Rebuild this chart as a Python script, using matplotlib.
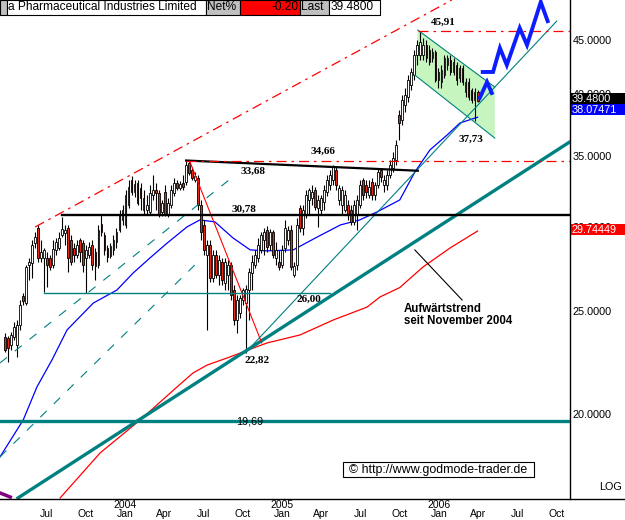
import matplotlib
matplotlib.use('Agg')
import matplotlib.pyplot as plt
import matplotlib.dates as mdates
from matplotlib.patches import Rectangle, Polygon
from matplotlib.lines import Line2D
from matplotlib.ticker import NullLocator, FixedLocator
import numpy as np
import pandas as pd

plt.rcParams['font.family'] = ['Liberation Sans', 'DejaVu Sans']

W, H = 625, 520

# Wochenkerzen (Freitag)
weeks = pd.date_range('2003-03-28', periods=158, freq='7D')

opens = [23.63, 23.58, 23.23, 23.63, 23.23, 24.26, 25.83, 25.44, 27.63, 27.75,
         28.98, 29.95, 28.06, 28.06, 28.06, 28.06, 27.63, 28.55, 28.67, 29.49,
         29.62, 29.95, 29.17, 28.67, 28.24, 29.17, 28.98, 28.06, 28.24, 28.86,
         28.42, 27.63, 30.21, 29.49, 28.67, 28.18, 28.55, 29.05, 29.81, 30.47,
         30.14, 31.47, 33.23, 32.37, 33.01, 32.66, 31.13, 31.13, 31.00, 32.16,
         32.51, 32.30, 31.00, 32.37, 30.87, 31.47, 32.30, 33.01, 32.66, 33.01,
         33.08, 34.47, 33.95, 33.23, 33.37, 31.47, 30.14, 28.24, 28.86, 26.86,
         28.24, 27.04, 27.81, 26.57, 27.04, 27.63, 26.17, 24.52, 24.90, 25.61,
         25.44, 26.17, 27.16, 27.63, 28.06, 28.55, 29.17, 29.81, 28.86, 29.68,
         28.06, 27.81, 27.63, 28.67, 29.17, 29.81, 27.04, 27.63, 31.27, 29.95,
         30.80, 31.82, 31.95, 32.51, 31.27, 31.13, 31.68, 32.37, 32.87, 33.23,
         33.95, 31.82, 31.47, 31.13, 31.47, 31.13, 30.34, 30.80, 31.47, 33.23,
         32.87, 32.16, 33.08, 32.16, 32.87, 33.95, 32.87, 32.87, 33.58, 34.10,
         34.70, 38.26, 37.84, 39.10, 39.78, 40.83, 41.72, 43.57, 43.57, 43.57,
         44.53, 44.05, 43.29, 43.86, 41.27, 41.09, 41.72, 42.64, 43.10, 42.00,
         42.64, 41.45, 42.36, 40.22, 41.09, 40.39, 39.52, 40.22]
highs = [23.84, 23.68, 23.89, 24.42, 24.52, 25.61, 26.00, 27.63, 28.06, 29.17,
         29.68, 30.14, 29.17, 28.67, 28.42, 28.24, 29.17, 29.30, 29.68, 30.67,
         30.14, 30.14, 29.49, 28.98, 29.17, 29.30, 29.17, 28.86, 29.05, 29.17,
         28.67, 30.14, 30.80, 29.68, 28.86, 28.98, 29.49, 29.95, 31.13, 31.47,
         32.51, 33.23, 33.51, 33.23, 33.23, 33.01, 32.51, 32.16, 32.87, 33.58,
         33.01, 32.51, 31.82, 32.87, 31.95, 32.87, 33.37, 33.23, 33.15, 33.58,
         34.66, 34.62, 34.17, 33.80, 33.58, 31.82, 30.47, 29.17, 29.17, 28.55,
         28.55, 28.24, 28.06, 28.06, 27.93, 27.81, 26.46, 25.89, 25.89, 26.29,
         26.46, 27.45, 28.24, 28.55, 29.30, 29.68, 29.95, 30.08, 29.88, 29.81,
         29.05, 28.55, 28.86, 30.47, 30.08, 30.14, 27.81, 30.60, 31.47, 31.47,
         32.51, 32.66, 32.87, 32.73, 32.16, 32.16, 32.87, 33.58, 33.95, 34.32,
         34.25, 32.87, 32.80, 32.51, 31.82, 31.47, 31.82, 32.16, 33.23, 33.37,
         33.23, 33.23, 33.37, 33.08, 34.10, 34.10, 33.58, 33.95, 34.70, 35.31,
         36.24, 38.67, 39.95, 40.56, 41.72, 42.36, 44.05, 45.01, 45.91, 45.20,
         45.01, 44.53, 44.24, 44.05, 42.36, 42.64, 43.57, 43.57, 43.57, 43.29,
         42.92, 42.64, 42.64, 41.45, 41.45, 40.56, 40.56, 40.39]
lows = [22.88, 22.40, 22.98, 23.48, 22.63, 24.00, 25.33, 25.33, 26.75, 26.86,
        28.67, 27.81, 27.81, 26.06, 26.35, 27.33, 27.45, 28.24, 28.55, 29.36,
        28.86, 27.22, 27.63, 27.81, 28.06, 27.81, 27.22, 26.00, 28.06, 27.33,
        26.75, 27.45, 29.43, 28.24, 27.81, 28.06, 28.24, 28.67, 29.68, 30.14,
        29.95, 31.27, 32.16, 32.02, 31.47, 31.13, 30.80, 30.80, 30.80, 31.82,
        31.13, 30.67, 30.73, 30.73, 30.67, 31.27, 32.09, 32.51, 32.51, 32.51,
        32.87, 33.58, 33.23, 33.08, 31.13, 29.17, 28.24, 24.00, 26.63, 26.63,
        26.86, 26.46, 26.46, 26.17, 26.17, 25.61, 24.26, 23.84, 24.63, 25.33,
        22.82, 24.52, 26.17, 27.45, 27.81, 28.36, 28.24, 28.42, 28.55, 28.06,
        27.63, 27.33, 27.45, 28.42, 28.86, 27.33, 26.92, 27.33, 29.68, 29.49,
        30.60, 30.80, 31.47, 31.13, 30.01, 30.80, 31.13, 32.09, 32.51, 32.87,
        32.51, 31.47, 30.80, 31.00, 30.47, 30.14, 30.14, 29.81, 31.27, 31.82,
        31.95, 31.95, 31.82, 31.82, 32.66, 33.08, 32.37, 32.51, 33.37, 33.80,
        34.32, 36.24, 37.44, 38.51, 39.35, 40.39, 41.27, 42.64, 43.10, 43.10,
        42.92, 42.64, 42.92, 41.09, 40.56, 40.56, 41.45, 42.18, 41.72, 41.72,
        40.83, 41.09, 40.83, 39.78, 39.52, 39.27, 37.73, 39.35]
closes = [22.98, 23.08, 23.74, 24.15, 24.26, 25.33, 25.55, 27.51, 27.81, 28.86,
          29.36, 28.06, 28.42, 28.55, 27.63, 27.51, 28.61, 29.05, 29.30, 29.88,
          29.81, 28.06, 27.81, 28.24, 28.86, 28.42, 27.63, 28.55, 28.74, 27.63,
          27.57, 29.81, 29.68, 28.55, 28.12, 28.80, 29.17, 29.68, 30.80, 31.13,
          32.16, 32.73, 32.37, 32.94, 31.61, 31.95, 31.95, 31.47, 32.30, 32.51,
          32.30, 30.87, 31.61, 30.87, 31.61, 32.51, 33.01, 32.66, 32.94, 32.73,
          34.32, 33.73, 33.37, 33.51, 31.47, 29.68, 28.55, 28.86, 26.86, 28.24,
          27.04, 27.93, 26.75, 27.81, 27.63, 25.89, 24.52, 25.61, 25.72, 26.17,
          26.23, 27.22, 27.81, 28.24, 28.86, 29.49, 29.68, 28.74, 29.68, 28.24,
          28.55, 27.51, 28.55, 29.95, 29.81, 27.51, 27.57, 30.14, 29.95, 31.13,
          32.16, 32.51, 32.37, 31.34, 31.82, 31.95, 32.51, 33.23, 33.58, 34.17,
          32.87, 32.66, 32.51, 32.16, 30.80, 30.34, 31.47, 31.82, 32.87, 32.16,
          32.37, 32.73, 32.16, 32.87, 33.80, 33.44, 33.23, 33.58, 34.32, 34.85,
          35.85, 37.60, 39.52, 39.95, 41.27, 42.00, 43.57, 44.53, 44.82, 44.53,
          43.29, 42.92, 43.86, 41.27, 42.00, 42.18, 43.29, 43.29, 42.00, 42.92,
          41.27, 42.36, 41.09, 41.09, 39.78, 39.52, 40.22, 39.48]

# gleitende Durchschnitte
blue_ma_dates = ['2003-03-16', '2003-05-09', '2003-06-10', '2003-07-15', '2003-08-19',
                 '2003-10-19', '2003-12-13', '2004-01-20', '2004-02-28', '2004-04-08',
                 '2004-05-24', '2004-06-23', '2004-07-28', '2004-09-08', '2004-10-18',
                 '2004-11-26', '2005-01-26', '2005-03-23', '2005-05-16', '2005-06-30',
                 '2005-08-09', '2005-10-01', '2005-11-05', '2005-12-10', '2006-01-19',
                 '2006-02-18', '2006-03-31']
blue_ma_vals = [18.22, 19.74, 21.21, 22.49, 24.00, 25.44, 26.17, 27.16, 28.06, 28.98,
                30.01, 30.47, 30.34, 29.30, 28.55, 28.49, 28.55, 29.36, 30.14, 30.47,
                31.00, 31.82, 33.80, 35.46, 36.63, 37.60, 38.07471]
red_ma_dates = ['2003-08-03', '2003-11-04', '2004-02-05', '2004-05-01', '2004-06-07',
                '2004-07-10', '2004-08-25', '2004-11-26', '2005-02-11', '2005-04-29',
                '2005-07-17', '2005-08-16', '2005-10-01', '2005-11-24', '2006-01-26',
                '2006-03-31']
red_ma_vals = [16.67, 18.38, 19.74, 21.21, 21.86, 22.24, 22.58, 23.33, 23.74, 24.52,
               25.22, 25.78, 26.31, 27.51, 28.67, 29.74449]
purple_dates = ['2003-03-16', '2003-04-09']
purple_vals = [16.85, 16.70]

# Prognose (blau)
hook_dates = ['2006-04-05', '2006-04-22', '2006-05-03']
hook_vals = [39.70, 41.09, 40.13]
zigzag_dates = ['2006-04-12', '2006-05-06', '2006-05-22', '2006-06-07', '2006-07-07',
                '2006-07-24', '2006-08-25', '2006-09-10']
zigzag_vals = [42.0, 42.0, 44.24, 42.64, 46.2, 44.53, 48.88, 46.9]

# Trendlinien
trend_main = (['2003-04-27', '2006-11-01'], [16.67, 36.1])
trend_low = (['2004-10-06', '2006-10-01'], [22.82, 46.9])
trend_down = (['2004-05-31', '2004-11-14'], [34.55, 23.33])
channel_top = (['2003-06-06', '2006-01-30'], [30.01, 49.1])
dash_a = (['2003-03-16', '2004-09-13'], [22.34, 33.58])
dash_b = (['2003-03-16', '2004-06-23'], [18.22, 27.93])
resist_line = (['2004-05-22', '2005-11-12'], [34.66, 33.90])
pointer = (['2005-11-05', '2006-02-23'], [28.55, 25.61])
green_dates = ['2005-11-12', '2006-05-10', '2006-05-10', '2005-11-05']
green_vals = [46.0, 40.65, 36.39, 41.72]

# horizontale Marken: wert, start, ende
lvl_1969 = (19.69, '2003-03-16', '2006-11-01')
lvl_2600 = (26.00, '2003-06-27', '2005-04-22')
lvl_3078 = (30.78, '2003-08-08', '2006-11-01')
lvl_3466 = (34.66, '2004-05-22', '2006-11-01')
lvl_4591 = (45.91, '2005-11-12', '2006-11-01')

# Beschriftungen
num_labels = [('45,91', '2006-01-09', 46.8), ('34,66', '2005-04-06', 35.38),
              ('33,68', '2004-10-25', 33.88), ('30,78', '2004-10-04', 31.20),
              ('26,00', '2005-03-04', 25.67), ('22,82', '2004-11-03', 22.49),
              ('37,73', '2006-03-15', 36.31)]

month_ticks = ['2003-07-01', '2003-10-01', '2004-01-01', '2004-04-01', '2004-07-01',
               '2004-10-01', '2005-01-01', '2005-04-01', '2005-07-01', '2005-10-01',
               '2006-01-01', '2006-04-01', '2006-07-01', '2006-10-01']
month_labels = ['\nJul', '\nOct', '2004\nJan', '\nApr', '\nJul', '\nOct', '2005\nJan',
                '\nApr', '\nJul', '\nOct', '2006\nJan', '\nApr', '\nJul', '\nOct']
price_ticks = [20, 25, 30, 35, 40, 45]

last_price = 39.48
ma_blue_last = 38.07471
ma_red_last = 29.74449

TEAL = '#008080'
RED = '#ff0000'
CANDLE_RED = '#e42a12'


def d(lst):
    return mdates.date2num(pd.to_datetime(lst))


fig = plt.figure(figsize=(W / 100, H / 100), dpi=100)
ax = fig.add_axes([0, 21 / H, 570 / W, 499 / H])
ax.set_yscale('log')
ax.set_ylim(16.63, 49.1)
ax.set_xlim(d(['2003-03-16'])[0], d(['2006-11-01'])[0])

# Kerzen
xw = mdates.date2num(weeks)
o = np.array(opens)
c = np.array(closes)
ax.vlines(xw, lows, highs, color='black', lw=0.8, zorder=3)
body_lo = np.minimum(o, c)
body_h = np.maximum(np.abs(c - o), 0.02)
cols = ['white' if cc >= oo else CANDLE_RED for oo, cc in zip(o, c)]
ax.bar(xw, body_h, bottom=body_lo, width=4.3, color=cols, edgecolor='black',
       lw=0.6, zorder=4)

# Kanal grün
ax.add_patch(Polygon(list(zip(d(green_dates), green_vals)), closed=True,
                     facecolor='#c6f5c0', edgecolor='none', zorder=1))
ax.plot(d(green_dates[:2]), green_vals[:2], color=TEAL, lw=0.8, zorder=5)
ax.plot(d(green_dates[2:]), green_vals[2:], color=TEAL, lw=0.8, zorder=5)

# Durchschnitte
ax.plot(d(blue_ma_dates), blue_ma_vals, color='#0000ff', lw=0.9, zorder=2)
ax.plot(d(red_ma_dates), red_ma_vals, color=RED, lw=0.9, zorder=2)
ax.plot(d(purple_dates), purple_vals, color='#800080', lw=2.5, zorder=2)

# Linien
ax.plot(d(trend_main[0]), trend_main[1], color=TEAL, lw=2.4, zorder=5)
ax.plot(d(trend_low[0]), trend_low[1], color=TEAL, lw=0.8, zorder=5)
ax.plot(d(trend_down[0]), trend_down[1], color=RED, lw=0.8, zorder=5)
ax.plot(d(channel_top[0]), channel_top[1], color=RED, lw=0.9,
        dashes=(8, 4, 2, 4), zorder=5)
ax.plot(d(dash_a[0]), dash_a[1], color=TEAL, lw=0.8, dashes=(8, 9), zorder=5)
ax.plot(d(dash_b[0]), dash_b[1], color=TEAL, lw=0.8, dashes=(8, 9), zorder=5)
ax.plot(d(resist_line[0]), resist_line[1], color='black', lw=1.6, zorder=5)
ax.plot(d(pointer[0]), pointer[1], color='black', lw=0.8, zorder=5)

ax.plot(d(lvl_1969[1:]), [lvl_1969[0]] * 2, color=TEAL, lw=2.4, zorder=5)
ax.plot(d(lvl_2600[1:]), [lvl_2600[0]] * 2, color=TEAL, lw=1.0, zorder=5)
ax.plot(d(lvl_3078[1:]), [lvl_3078[0]] * 2, color='black', lw=1.7, zorder=5)
ax.plot(d(lvl_3466[1:]), [lvl_3466[0]] * 2, color=RED, lw=0.9,
        dashes=(8, 4, 2, 4), zorder=6)
ax.plot(d(lvl_4591[1:]), [lvl_4591[0]] * 2, color=RED, lw=0.9,
        dashes=(8, 4, 2, 4), zorder=6)

# Prognose
ax.plot(d(hook_dates), hook_vals, color='#0a1eff', lw=2.8, zorder=6,
        solid_joinstyle='miter', clip_on=False)
ax.plot(d(zigzag_dates), zigzag_vals, color='#0a1eff', lw=2.8, zorder=6,
        solid_joinstyle='miter', clip_on=False)

for txt, dt, v in num_labels:
    ax.text(d([dt])[0], v, txt, ha='center', va='center', fontsize=8,
            fontweight='bold', family='Liberation Serif', zorder=7)
ax.text(d(['2004-10-18'])[0], lvl_1969[0], '19,69', ha='center', va='center',
        fontsize=7.8, zorder=7)
ax.text(d(['2005-10-11'])[0], 24.79, 'Aufwärtstrend\nseit November 2004',
        ha='left', va='center', fontsize=8.3, fontweight='bold',
        linespacing=1.1, zorder=7)

# Achsen
for s in ['left', 'top', 'bottom']:
    ax.spines[s].set_visible(False)
ax.spines['right'].set_linewidth(1.0)
ax.yaxis.tick_right()
ax.yaxis.set_major_locator(FixedLocator(price_ticks))
ax.yaxis.set_minor_locator(NullLocator())
ax.set_yticklabels(['%.4f' % p for p in price_ticks])
ax.tick_params(axis='y', length=0, pad=2, labelsize=7.8)
ax.set_xticks(d(month_ticks))
ax.set_xticklabels(month_labels, linespacing=0.95)
ax.tick_params(axis='x', length=0, pad=0.5, labelsize=7.5)
ax.xaxis.set_minor_locator(NullLocator())

fig.add_artist(Line2D([0, 1], [21 / H, 21 / H], color='black', lw=1.0))
fig.text(611 / W, (H - 487) / H, 'LOG', ha='center', va='center', fontsize=7.8)


# Kursboxen rechts
def right_box(val, txt, fc, shift):
    yd = ax.transData.transform((0, val))[1] + shift
    fig.add_artist(Rectangle((570.5 / W, (yd - 5.5) / H), 55 / W, 11 / H,
                             transform=fig.transFigure, facecolor=fc,
                             edgecolor='none', zorder=10))
    fig.text(572 / W, yd / H, txt, color='white', ha='left', va='center',
             fontsize=7.8, zorder=11)


right_box(last_price, '%.4f' % last_price, 'black', 2)
right_box(ma_blue_last, '%.5f' % ma_blue_last, '#0000ff', 7.5)
right_box(ma_red_last, '%.5f' % ma_red_last, RED, 1.5)

# Kopfzeile
cells = [(0, 7, '#c0c0c0', '', 'left'),
         (7, 206, 'white', 'a Pharmaceutical Industries Limited', 'left'),
         (206, 240, '#c0c0c0', 'Net%', 'left'),
         (240, 300, RED, '-0.20', 'right'),
         (300, 329, '#c0c0c0', 'Last', 'left'),
         (329, 380, 'white', '39.4800', 'left')]
for x0, x1, fc, txt, ha in cells:
    fig.add_artist(Rectangle((x0 / W, (H - 15) / H), (x1 - x0) / W, 15 / H,
                             transform=fig.transFigure, facecolor=fc,
                             edgecolor='black', lw=0.8, zorder=10))
    if txt:
        tx = (x0 + 1.5) / W if ha == 'left' else (x1 - 2) / W
        fig.text(tx, (H - 7.5) / H, txt, ha=ha, va='center', fontsize=8.6,
                 zorder=11)

# Copyright
fig.add_artist(Rectangle((343 / W, (H - 477) / H), 191 / W, 15 / H,
                         transform=fig.transFigure, facecolor='white',
                         edgecolor='black', lw=0.8, zorder=10))
fig.text(438.5 / W, (H - 469.5) / H, '© http://www.godmode-trader.de',
         ha='center', va='center', fontsize=8.9, zorder=11)

fig.savefig('out.png', dpi=100)
